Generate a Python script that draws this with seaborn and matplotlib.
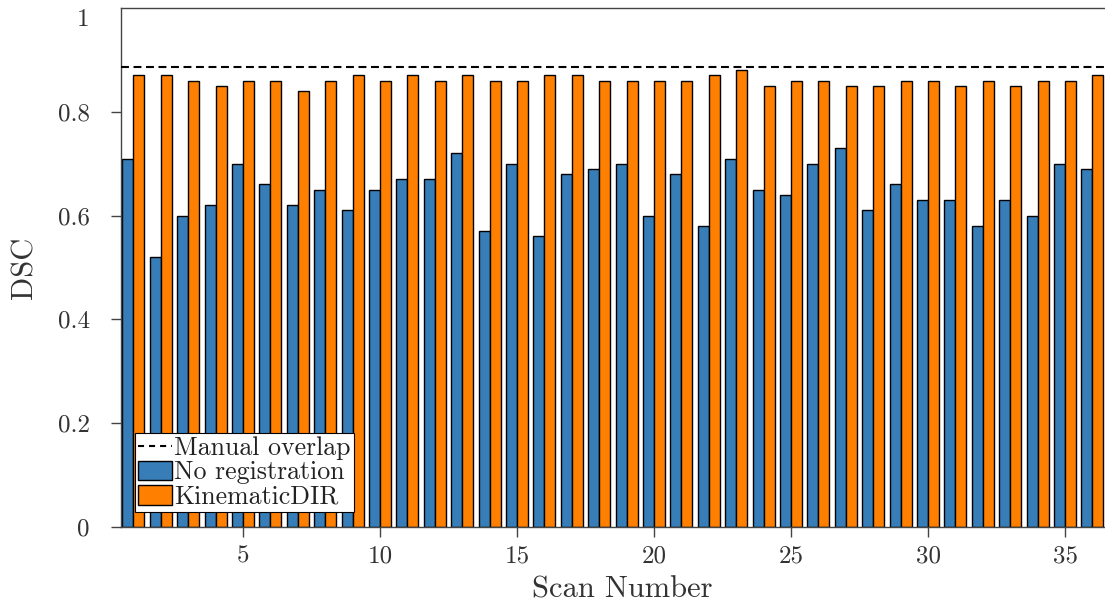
import numpy as np
import pandas as pd
import matplotlib
matplotlib.use("Agg")
import matplotlib.pyplot as plt
from matplotlib.lines import Line2D
from matplotlib.patches import Patch
from matplotlib.transforms import ScaledTranslation
import seaborn as sns

# Per-scan Dice similarity coefficients
scans = list(range(1, 37))
no_registration = [0.71, 0.52, 0.60, 0.62, 0.70, 0.66, 0.62, 0.65, 0.61, 0.65,
                   0.67, 0.67, 0.72, 0.57, 0.70, 0.56, 0.68, 0.69, 0.70, 0.60,
                   0.68, 0.58, 0.71, 0.65, 0.64, 0.70, 0.73, 0.61, 0.66, 0.63,
                   0.63, 0.58, 0.63, 0.60, 0.70, 0.69]
kinematic_dir = [0.87, 0.87, 0.86, 0.85, 0.86, 0.86, 0.84, 0.86, 0.87, 0.86,
                 0.87, 0.86, 0.87, 0.86, 0.86, 0.87, 0.87, 0.86, 0.86, 0.86,
                 0.86, 0.87, 0.88, 0.85, 0.86, 0.86, 0.85, 0.85, 0.86, 0.86,
                 0.85, 0.86, 0.85, 0.86, 0.86, 0.87]
manual_overlap = 0.886

series_names = ["No registration", "KinematicDIR"]
series_colors = ["#377eb8", "#ff7f00"]
ytick_values = [0, 0.2, 0.4, 0.6, 0.8, 1]
ytick_labels = ["0", "0.2", "0.4", "0.6", "0.8", "1"]
xtick_values = [5, 10, 15, 20, 25, 30, 35]
xtick_labels = ["5", "10", "15", "20", "25", "30", "35"]

df = pd.DataFrame({
    "Scan": scans * 2,
    "DSC": no_registration + kinematic_dir,
    "Method": [series_names[0]] * len(scans) + [series_names[1]] * len(scans),
})

sns.set_style("ticks")
plt.rcParams["font.family"] = ["cmr10", "DejaVu Serif"]
plt.rcParams["axes.formatter.use_mathtext"] = True
plt.rcParams["mathtext.fontset"] = "cm"

fig = plt.figure(figsize=(11.05, 6.08), dpi=100)
# The plotting area runs slightly past the right edge of the canvas
ax = fig.add_axes([121 / 1105, 81 / 608, (1123 - 121) / 1105, (527 - 8) / 608])

sns.barplot(data=df, x="Scan", y="DSC", hue="Method", hue_order=series_names,
            palette=series_colors, native_scale=True, width=0.8, gap=0,
            edgecolor="black", linewidth=1.0, saturation=1, legend=False,
            errorbar=None, ax=ax)

ax.axhline(manual_overlap, color="black", linestyle=(0, (3.8, 2.2)),
           linewidth=1.5, zorder=5)

ax.set_xlim(0.547, 0.547 + (1123 - 121) / 27.4)
ax.set_ylim(0, 1)
ax.set_yticks(ytick_values)
ax.set_yticklabels(ytick_labels)
ax.set_xticks(xtick_values)
ax.set_xticklabels(xtick_labels)

spine_color = "#444444"
for side in ["left", "bottom", "top", "right"]:
    ax.spines[side].set_visible(True)
    ax.spines[side].set_color(spine_color)
    ax.spines[side].set_linewidth(1.0)

ax.tick_params(axis="y", direction="out", length=7.5, width=1.0,
               color=spine_color, labelsize=18, pad=15, labelcolor="#333333")
ax.tick_params(axis="x", direction="out", length=7.5, width=1.0,
               color=spine_color, labelsize=18, pad=6, labelcolor="#333333")

# Top label sits a little below the frame edge, without a tick mark
top_tick = ax.yaxis.get_major_ticks()[-1]
top_tick.tick1line.set_visible(False)
top_tick.label1.set_transform(top_tick.label1.get_transform()
                              + ScaledTranslation(0, -9 / 100, fig.dpi_scale_trans))

ax.set_xlabel("Scan Number", fontsize=22, color="#333333", labelpad=6)
ax.set_ylabel("DSC", fontsize=22, color="#333333", labelpad=14)

handles = [
    Line2D([0], [0], color="black", linestyle=(0, (2.9, 2.4)), linewidth=1.5),
    Patch(facecolor=series_colors[0], edgecolor="black", linewidth=1.0),
    Patch(facecolor=series_colors[1], edgecolor="black", linewidth=1.0),
]
leg = ax.legend(handles, ["Manual overlap"] + series_names,
                loc="lower left", bbox_to_anchor=(14 / 1002, 0.029),
                borderaxespad=0, fontsize=18.6, handlelength=1.3,
                handleheight=0.8, handletextpad=0.1, labelspacing=0.02,
                borderpad=0.12, fancybox=False, framealpha=1,
                edgecolor="black")
leg.get_frame().set_linewidth(0.8)
for t in leg.get_texts():
    t.set_color("#222222")

fig.savefig("out.png", dpi=100)
